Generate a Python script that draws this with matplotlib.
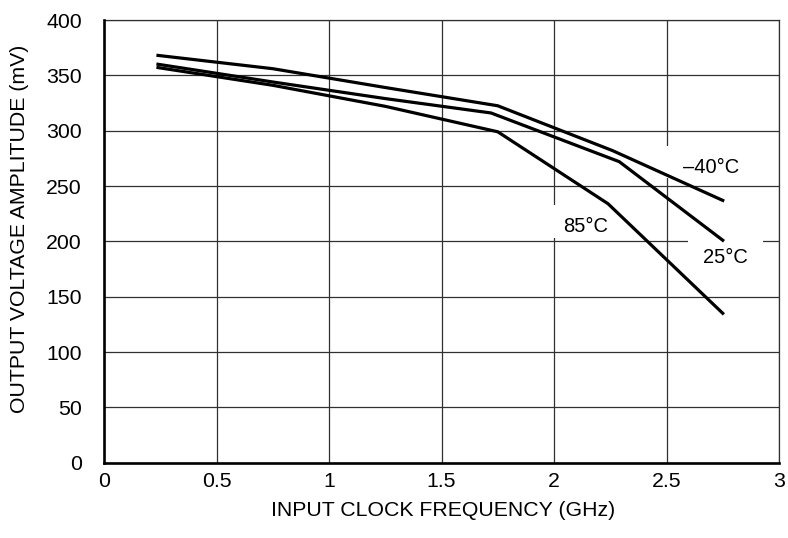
import matplotlib
matplotlib.use("Agg")
import matplotlib.pyplot as plt
from matplotlib.patches import Rectangle

# Data
x_m40 = [0.24, 0.75, 1.25, 1.75, 2.26, 2.75]
y_m40 = [368, 356, 339, 322.5, 282, 237]
x_25 = [0.24, 0.75, 1.25, 1.72, 2.29, 2.75]
y_25 = [360, 344, 329, 316, 272, 201]
x_85 = [0.24, 0.75, 1.25, 1.75, 2.24, 2.75]
y_85 = [357, 341, 322, 299, 234, 135]

x_ticks = [0, 0.5, 1, 1.5, 2, 2.5, 3]
x_tick_labels = ["0", "0.5", "1", "1.5", "2", "2.5", "3"]
y_ticks = [0, 50, 100, 150, 200, 250, 300, 350, 400]
y_tick_labels = [str(v) for v in y_ticks]

labels = ["–40°C", "25°C", "85°C"]
label_pos = [(2.70, 261.8), (2.762, 180.4), (2.142, 208.5)]

plt.rcParams['font.family'] = ['Liberation Sans', 'DejaVu Sans']
FS = 14.5
FS_TICK = 15.3
FS_AX = 15.3

fig = plt.figure(figsize=(7.88, 5.38), dpi=100)
W, H = 788, 538
l, r, b, t = 104, 779, 462.7, 20
ax = fig.add_axes([l / W, 1 - b / H, (r - l) / W, (b - t) / H])

ax.set_xlim(0, 3)
ax.set_ylim(0, 400)

grid_color = '#303030'
ax.set_xticks(x_ticks)
ax.set_xticklabels(x_tick_labels, fontsize=FS_TICK)
ax.set_yticks(y_ticks)
ax.set_yticklabels(y_tick_labels, fontsize=FS_TICK)
ax.tick_params(axis='x', length=0, pad=7)
ax.tick_params(axis='y', length=0, pad=16)
ax.grid(True, color=grid_color, linewidth=0.9, zorder=0)
ax.set_axisbelow(True)

for s in ['left', 'bottom']:
    ax.spines[s].set_linewidth(1.9)
    ax.spines[s].set_color('black')
    ax.spines[s].set_zorder(5)
for s in ['top', 'right']:
    ax.spines[s].set_linewidth(0.9)
    ax.spines[s].set_color(grid_color)

# white knock-out boxes behind the curve labels (cover the grid)
knockouts = [((2.48, 257.2), 0.436, 29.0),
             ((1.991, 203.0), 0.293, 29.8),
             ((2.596, 174.0), 0.333, 32.6)]
for (x0, y0), w, h in knockouts:
    ax.add_patch(Rectangle((x0, y0), w, h, facecolor='white', edgecolor='none', zorder=1.5))

for xs, ys in [(x_m40, y_m40), (x_25, y_25), (x_85, y_85)]:
    ax.plot(xs, ys, color='black', linewidth=2.3, solid_joinstyle='miter', zorder=3)

for lab, (lx, ly) in zip(labels, label_pos):
    ax.text(lx, ly, lab, fontsize=FS, ha='center', va='baseline', zorder=4)

fig.text(443 / W, 1 - 510 / H, "INPUT CLOCK FREQUENCY (GHz)", fontsize=FS_AX,
         ha='center', va='center')
fig.text(20 / W, 1 - 229 / H, "OUTPUT VOLTAGE AMPLITUDE (mV)", fontsize=FS_AX,
         ha='center', va='center', rotation=90)

fig.savefig("out.png", dpi=100)
